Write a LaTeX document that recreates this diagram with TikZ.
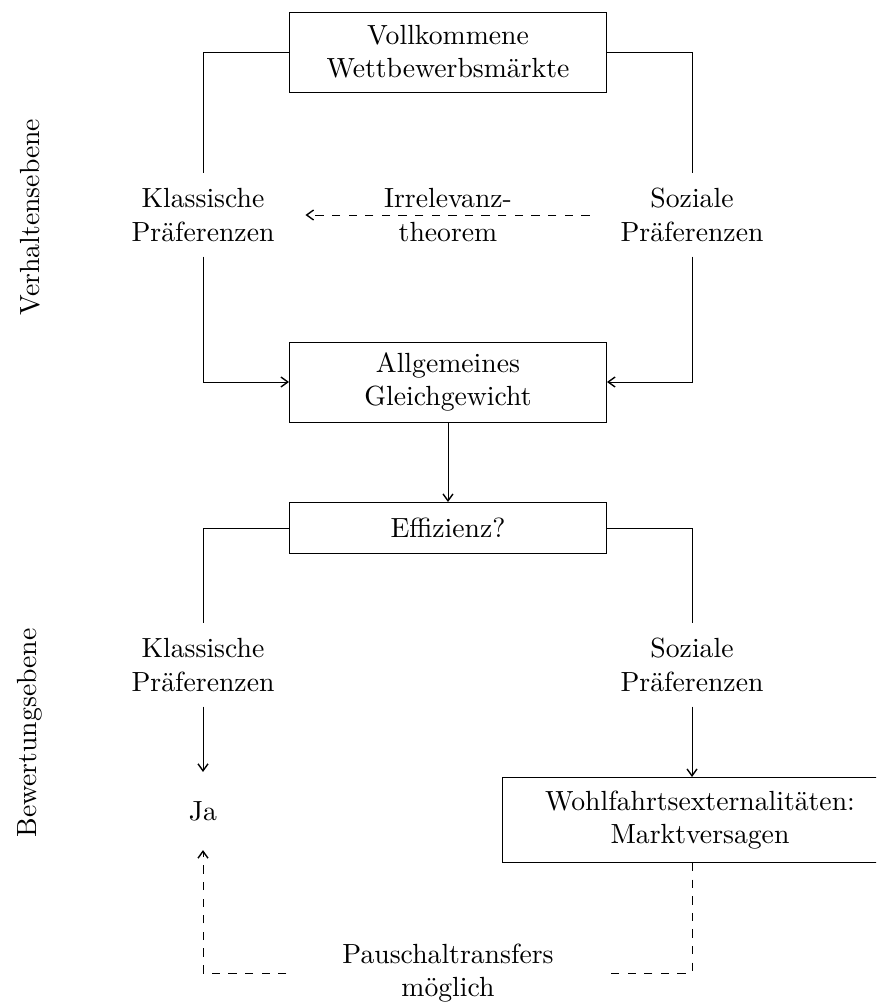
\documentclass[tikz,border=0pt]{standalone}
\usepackage{fontspec}
\usetikzlibrary{arrows.meta}
\def\s{0.361pt}
\begin{document}
\begin{tikzpicture}[x=\s, y={(0pt,-0.361pt)},
  >={Straight Barb[length=2.5pt, width=3.6pt, line width=0.5pt]},
  box/.style={draw, line width=0.35pt, align=center, minimum width={317*\s}, minimum height={80*\s}, inner sep=3pt},
  pref/.style={align=center, inner xsep=11pt, minimum height={82*\s}},
  link/.style={line width=0.35pt},
  side/.style={rotate=90}]
  \clip (0,0) rectangle (876,1003);

  % Verhaltensebene
  \node[box] (top)  at (448,52)  {Vollkommene\\Wettbewerbsmärkte};
  \node[pref] (kl1) at (203,215) {Klassische\\Präferenzen};
  \node[pref] (sz1) at (692,215) {Soziale\\Präferenzen};
  \node[align=center] (irr) at (448,215) {Irrelevanz-\\theorem};
  \node[box] (allg) at (448,382) {Allgemeines\\Gleichgewicht};

  % Bewertungsebene
  \node[box, minimum height={51*\s}] (eff) at (448,528) {Effizienz?};
  \node[pref] (kl2) at (203,665) {Klassische\\Präferenzen};
  \node[pref] (sz2) at (692,665) {Soziale\\Präferenzen};
  \node[minimum height={77*\s}] (ja) at (203,811) {Ja};
  \node[box, minimum width={396*\s}, minimum height={85*\s}] (wohl) at (700,820)
    {Wohlfahrtsexternalitäten:\\Marktversagen};
  \node[align=center, minimum width={322*\s}] (pausch) at (448,973) {Pauschaltransfers\\möglich};

  % level labels
  \node[side] (verh) at (30,217) {Verhaltensebene};
  \node[side] (bew)  at (30,733) {Bewertungsebene};

  % connectors
  \draw[link] (top.west) -| (kl1.north);
  \draw[link] (top.east) -| (sz1.north);
  \draw[link, ->] (kl1.south) |- (allg.west);
  \draw[link, ->] (sz1.south) |- (allg.east);
  \draw[link, dashed, ->] (sz1.west) -- (kl1.east);
  \draw[link, ->] (allg) -- (eff);
  \draw[link] (eff.west) -| (kl2.north);
  \draw[link] (eff.east) -| (sz2.north);
  \draw[link, ->] (kl2) -- (ja);
  \draw[link, ->] (sz2.south) -- (sz2.south |- wohl.north);
  \draw[link, dashed] (sz2.south |- wohl.south) |- (pausch.east);
  \draw[link, dashed, ->] (pausch.west) -| (ja.south);
\end{tikzpicture}
\end{document}
